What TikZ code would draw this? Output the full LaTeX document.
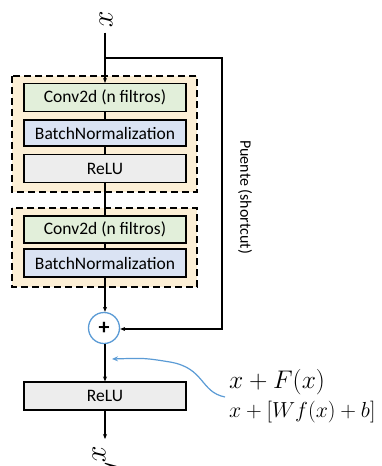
\documentclass[tikz,border=0pt]{standalone}
\usepackage{fontspec}
\setsansfont{Carlito}
\usetikzlibrary{arrows.meta}
\definecolor{blockbg}{HTML}{FCEFD6}
\definecolor{convbg}{HTML}{E2EFDA}
\definecolor{bnbg}{HTML}{DAE3F3}
\definecolor{relubg}{HTML}{EDEDED}
\definecolor{sumblue}{HTML}{5B9BD5}
\tikzset{
  layer/.style={draw=black, line width=1.1pt, minimum width=162pt, minimum height=28pt,
    inner sep=0pt, font=\sffamily\fontsize{17.5}{19}\selectfont},
  group/.style={draw=black, fill=blockbg, line width=1.3pt, dash pattern=on 7pt off 4pt},
  flow/.style={line width=1.1pt, -{Stealth[length=5pt,width=4pt]}},
  link/.style={line width=1.1pt},
  varlabel/.style={font=\fontsize{24.88}{25}\selectfont, scale=1.2, rotate=-90, inner sep=0pt},
}
\begin{document}
\begin{tikzpicture}[x=1pt,y=-1pt]
\useasboundingbox (0,0) rectangle (381,466);
% dashed groups
\draw[group] (12,76) rectangle (197,192);
\draw[group] (12,208) rectangle (197,287);
% layers of the first group
\node[layer, fill=convbg] (c1) at (105,97.5) {Conv2d (n filtros)};
\node[layer, fill=bnbg, minimum height=26pt] (b1) at (105,133) {BatchNormalization};
\node[layer, fill=relubg] (r1) at (105,168.5) {ReLU};
% layers of the second group
\node[layer, fill=convbg, minimum height=27pt] (c2) at (105,229.5) {Conv2d (n filtros)};
\node[layer, fill=bnbg] (b2) at (105,263) {BatchNormalization};
% sum and output activation
\node[circle, draw=sumblue, line width=1.3pt, minimum size=31pt, inner sep=0pt,
  font=\sffamily\bfseries\fontsize{22}{22}\selectfont] (sum) at (104,328) {+};
\node[layer, fill=relubg] (r2) at (105,396) {ReLU};
% input and output labels (rotated, so east is the lower side)
\node[varlabel] (xin) at (106,20) {$x$};
\node[varlabel, anchor=west] (xout) at (105,446) {$x'$};
\coordinate (split) at (105,58);
\coordinate (corner1) at (222,58);
\coordinate (corner2) at (222,329);
% main path
\draw[link, shorten <=4pt] (xin.east -| split) -- (split);
\draw[flow] (split) -- (c1);
\draw[link] (c1) -- (b1);
\draw[link] (b1) -- (r1);
\draw[link] (r1) -- (c2);
\draw[link] (c2) -- (b2);
\draw[flow] (b2) -- (b2 |- sum.north);
\draw[flow] (sum.south -| r2) -- (r2);
\draw[flow, shorten >=7pt] (r2) -- (r2 |- xout.west);
% shortcut
\draw[flow] (split) -- (corner1) -- (corner2) -- (sum.east |- corner2);
\node[rotate=-90, font=\sffamily\fontsize{16}{18}\selectfont] (bridge) at (245,197) {Puente (shortcut)};
% annotation
\coordinate (noteend) at (225,397);
\coordinate (notetip) at (112,359);
\draw[sumblue, line width=1.2pt, -{Stealth[length=6pt,width=5pt]}]
  (noteend) .. controls (200,392) and (205,368) .. (170,362) .. controls (145,358) .. (notetip);
\node[anchor=west, font=\fontsize{24.88}{25}\selectfont, scale=1.025, inner sep=0pt] (fx) at (229,382) {$x+F(x)$};
\node[anchor=west, font=\fontsize{20.74}{21}\selectfont, scale=1.05, inner sep=0pt] (wfx) at (229,412) {$x+[Wf(x)+b]$};
\end{tikzpicture}
\end{document}
